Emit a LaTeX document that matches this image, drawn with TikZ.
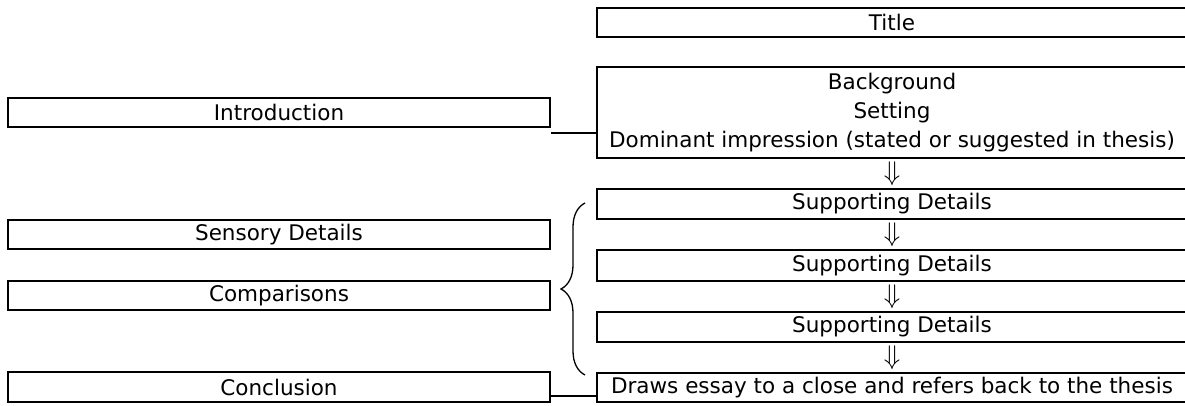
\documentclass[tikz,border=0pt]{standalone}
\usepackage{fontspec}
\setmainfont{DejaVu Sans}
\usetikzlibrary{decorations.pathreplacing,calc}

\begin{document}
\begin{tikzpicture}[x=1pt,y=-1pt,
    font=\fontsize{21.5}{29}\selectfont,
    box/.style={draw, line width=2.1pt, inner sep=0pt, align=center},
    lbox/.style={box, minimum width=542pt, minimum height=29pt},
    rbox/.style={box, minimum width=590pt, minimum height=30pt},
    link/.style={line width=1.3pt}]
  \useasboundingbox (0,0) rectangle (1185,406);
  % left column
  \node[lbox] (intro) at (279,112.5) {Introduction};
  \node[lbox] (sens) at (279,234.5) {Sensory Details};
  \node[lbox] (comp) at (279,295.5) {Comparisons};
  \node[lbox, minimum height=30pt] (concl) at (279,387) {Conclusion};
  % right column
  \node[rbox, minimum height=29pt] (title) at (892,22.5) {Title};
  \node[rbox, minimum height=91pt] (bg) at (892,112.5) {Background\\Setting\\Dominant impression (stated or suggested in thesis)};
  \node[rbox] (sd1) at (892,204) {Supporting Details};
  \node[rbox, minimum height=31pt] (sd2) at (892,265.5) {Supporting Details};
  \node[rbox] (sd3) at (892,327) {Supporting Details};
  \node[rbox, minimum height=29pt] (close) at (892,387.5) {Draws essay to a close and refers back to the thesis};
  % down arrows
  \foreach \a/\b in {bg/sd1, sd1/sd2, sd2/sd3, sd3/close}
    \node[scale=1.3, inner sep=0pt] (arr\a) at ($(\a.south)!0.5!(\b.north)$) {$\Downarrow$};
  % links
  \draw[link] ([yshift=-5pt]intro.south east) -- ([yshift=-5pt]intro.south east -| bg.west);
  \draw[link] ([yshift=-9pt]concl.east) -- ([yshift=-9pt]concl.east -| close.west);
  \coordinate (btop) at (585,203);
  \coordinate (bbot) at (585,375);
  \draw[link, decorate, decoration={brace, amplitude=24pt}] (bbot) -- (btop);
\end{tikzpicture}
\end{document}
